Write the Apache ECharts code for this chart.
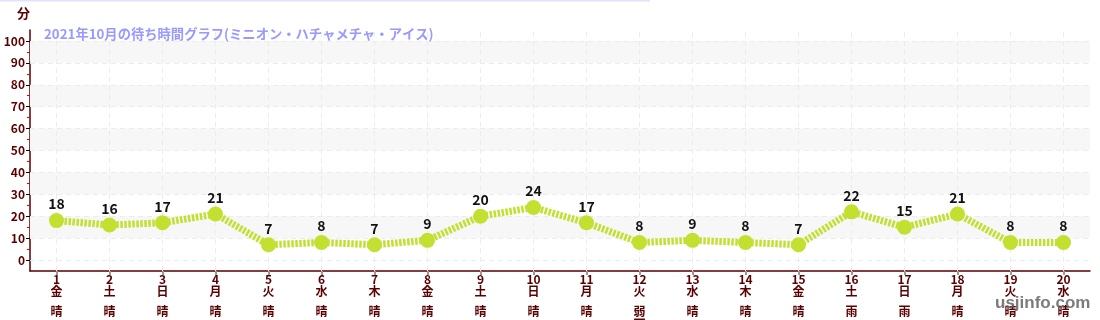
<!DOCTYPE html>
<html>
<head>
<meta charset="utf-8">
<script src="https://cdn.jsdelivr.net/npm/echarts@6/dist/echarts.min.js"></script>
<style>
html,body{margin:0;padding:0;background:#fff;}
#c{width:1100px;height:320px;}
</style>
</head>
<body>
<div id="c"></div>
<script>
const titleText = '2021年10月の待ち時間グラフ(ミニオン・ハチャメチャ・アイス)';
const days = ['1','2','3','4','5','6','7','8','9','10','11','12','13','14','15','16','17','18','19','20'];
const weekdays = ['金','土','日','月','火','水','木','金','土','日','月','火','水','木','金','土','日','月','火','水'];
const weather = ['晴','晴','晴','晴','晴','晴','晴','晴','晴','晴','晴','弱\n雨','晴','晴','晴','雨','雨','晴','晴','晴'];
const waits = [18,16,17,21,7,8,7,9,20,24,17,8,9,8,7,22,15,21,8,8];
const yTicks = [0,10,20,30,40,50,60,70,80,90,100];
const yMinorTicks = [5,15,25,35,45,55,65,75,85,95];
const bands = [[10,20],[30,40],[50,60],[70,80],[90,100]];

const maroon = '#5a0000';
const font = '"Noto Sans CJK JP", "Noto Sans", sans-serif';
const chart = echarts.init(document.getElementById('c'), null, {renderer: 'canvas'});

const baseY = {
  type: 'value', min: -5, max: 105, interval: 5, position: 'left', offset: 0,
  axisLine: {show: false}, axisLabel: {show: false},
  axisTick: {show: false}, splitLine: {show: false}, splitArea: {show: false}
};

chart.setOption({
  animation: false,
  backgroundColor: '#fff',
  textStyle: {fontFamily: font},
  title: {
    text: titleText, left: 39, top: 22,
    textStyle: {color: '#9999ff', fontSize: 13.3, fontWeight: 'bold', fontFamily: font}
  },
  grid: {left: 30, right: 10, top: 30, bottom: 49, containLabel: false, outerBoundsMode: 'none'},
  graphic: [
    {type: 'rect', left: 0, top: 0, shape: {width: 650, height: 1.5}, style: {fill: '#e2e2fa'}, z: 100},
    {type: 'text', left: 995, top: 295, z: 100,
     style: {text: 'usjinfo.com', fill: 'rgba(100,100,100,0.85)', font: 'bold 17px "Liberation Sans", Arial, sans-serif'}}
  ],
  xAxis: {
    type: 'category', data: days, boundaryGap: true,
    name: '日', nameLocation: 'middle', nameGap: 30,
    nameTextStyle: {color: maroon, fontSize: 13, fontWeight: 'bold', fontFamily: font},
    axisLine: {onZero: false, lineStyle: {color: maroon, width: 1.5}},
    axisTick: {show: true, alignWithLabel: true, length: 4, lineStyle: {color: '#999', width: 2}},
    splitLine: {show: false},
    axisLabel: {
      interval: 0, margin: 2, color: maroon,
      formatter: (v, i) => `{d|${v}}\n{w|${weekdays[i]}}\n{t|${weather[i]}}`,
      rich: {
        d: {fontSize: 12, fontWeight: 'bold', color: maroon, lineHeight: 12, fontFamily: font},
        w: {fontSize: 12, fontWeight: 'bold', color: maroon, lineHeight: 13, fontFamily: font},
        t: {fontSize: 12, fontWeight: 'bold', color: maroon, lineHeight: 13, padding: [14, 0, 0, 0], fontFamily: font}
      }
    }
  },
  yAxis: [
    Object.assign({}, baseY, {
      name: '分', nameLocation: 'end', nameGap: 10,
      nameTextStyle: {color: maroon, fontSize: 13, fontWeight: 'bold', align: 'right', fontFamily: font},
      axisLine: {show: true, onZero: false, lineStyle: {color: maroon, width: 1.5}},
      axisTick: {show: true, length: 4, customValues: yTicks, lineStyle: {color: '#000', width: 1}},
      axisLabel: {show: true, customValues: yTicks, margin: 5, color: maroon, fontSize: 12, fontWeight: 'bold', fontFamily: font}
    }),
    Object.assign({}, baseY, {
      axisTick: {show: true, length: 3, customValues: yMinorTicks, lineStyle: {color: '#e00000', width: 1}}
    }),
    Object.assign({}, baseY, {
      axisTick: {show: true, inside: true, length: 2, customValues: yTicks, lineStyle: {color: '#000', width: 1}}
    })
  ],
  series: [
    {
      type: 'line', yAxisIndex: 0, z: 1, silent: true,
      data: days.map(() => '-'), symbol: 'none', lineStyle: {opacity: 0},
      markArea: {
        silent: true,
        itemStyle: {color: '#f7f7f7'},
        data: bands.map(b => [{yAxis: b[0]}, {yAxis: b[1]}])
      },
      markLine: {
        silent: true, symbol: 'none', label: {show: false},
        lineStyle: {color: '#ececec', type: [5, 4], width: 1},
        data: yTicks.map(v => ({yAxis: v})).concat(days.map((d, i) => ({xAxis: i})))
      }
    },
    {
      type: 'line', yAxisIndex: 0, z: 5, data: waits,
      symbol: 'circle', symbolSize: 15,
      itemStyle: {color: '#c2e030'},
      lineStyle: {color: '#c2e030', width: 7, type: [2.5, 1.5]},
      label: {show: true, position: 'top', distance: 2, color: '#111', fontSize: 14, fontWeight: 'bold', fontFamily: font}
    }
  ]
});
</script>
</body>
</html>
